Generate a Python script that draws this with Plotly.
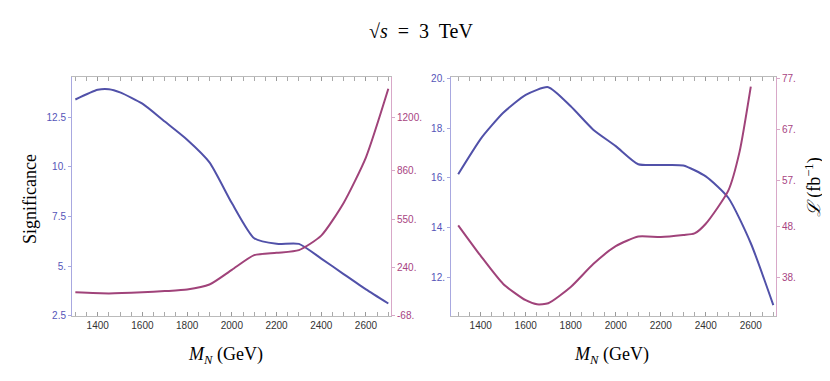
import plotly.graph_objects as go

# M_N (GeV)
mass_sig = [1300, 1400, 1450, 1500, 1600, 1700, 1800, 1900, 2000, 2100, 2200, 2300, 2400, 2500, 2600, 2700]
# left panel: significance and required luminosity
sig_left = [13.38, 13.87, 13.9, 13.74, 13.17, 12.27, 11.36, 10.22, 8.17, 6.40, 6.12, 6.12, 5.38, 4.60, 3.83, 3.12]
mass_lumi_left = [1300, 1450, 1600, 1700, 1800, 1900, 2000, 2100, 2200, 2300, 2400, 2500, 2600, 2700]
lumi_left = [82, 75, 82, 90, 100, 132, 226, 320, 335, 352, 445, 654, 946, 1384]

# right panel
sig_right = [16.15, 17.57, 18.12, 18.62, 19.34, 19.65, 18.88, 17.94, 17.28, 16.55, 16.52, 16.5, 16.06, 15.2, 13.37, 10.88]
mass_lumi_right = [1300, 1400, 1500, 1600, 1650, 1700, 1800, 1900, 2000, 2100, 2200, 2300, 2350, 2400, 2500, 2550, 2600]
lumi_right = [48.2, 42.2, 36.7, 33.5, 32.7, 32.9, 36.1, 40.6, 44.1, 46.0, 45.9, 46.3, 46.6, 48.5, 55.0, 62.6, 75.4]

x_ticks = [1400, 1600, 1800, 2000, 2200, 2400, 2600]
left_sig_ticks = [2.5, 5, 7.5, 10, 12.5]
left_sig_text = ["2.5", "5.", "7.5", "10.", "12.5"]
left_lumi_ticks = [-68, 240, 550, 860, 1200]
left_lumi_text = ["-68.", "240.", "550.", "860.", "1200."]
right_sig_ticks = [12, 14, 16, 18, 20]
right_sig_text = ["12.", "14.", "16.", "18.", "20."]
right_lumi_ticks = [38, 48, 57, 67, 77]
right_lumi_text = ["38.", "48.", "57.", "67.", "77."]

BLUE = "#5151a9"
RED = "#a0437a"
W, H = 830, 381

fig = go.Figure()
fig.add_trace(go.Scatter(x=mass_sig, y=sig_left, xaxis="x", yaxis="y", mode="lines",
                         line=dict(color=BLUE, width=2, shape="spline", smoothing=0.6), showlegend=False))
fig.add_trace(go.Scatter(x=mass_lumi_left, y=lumi_left, xaxis="x", yaxis="y2", mode="lines",
                         line=dict(color=RED, width=2, shape="spline", smoothing=0.6), showlegend=False))
fig.add_trace(go.Scatter(x=mass_sig, y=sig_right, xaxis="x2", yaxis="y3", mode="lines",
                         line=dict(color=BLUE, width=2, shape="spline", smoothing=0.6), showlegend=False))
fig.add_trace(go.Scatter(x=mass_lumi_right, y=lumi_right, xaxis="x2", yaxis="y4", mode="lines",
                         line=dict(color=RED, width=2, shape="spline", smoothing=0.6), showlegend=False))

tickfont = dict(family="Liberation Sans", size=10, color="#333333")
xcommon = dict(tickvals=x_ticks, ticks="inside", ticklen=4, tickcolor="#999999",
               showline=True, linecolor="#bbbbbb", mirror="allticks", showgrid=False,
               zeroline=False, tickfont=tickfont,
               minor=dict(dtick=50, ticks="inside", ticklen=2, tickcolor="#aaaaaa"))
ydom = [1 - 312 / H, 1 - 67 / H]

def yax(ticks, text, color, linecolor, rng, side, **kw):
    return dict(tickvals=ticks, ticktext=text, range=rng, side=side, ticks="outside", ticklen=3,
                tickcolor=linecolor, showline=True, linecolor=linecolor, showgrid=False,
                zeroline=False, tickfont=dict(family="Liberation Sans", size=10, color=color),
                domain=ydom, **kw)

# right panel axes are tied: L = -20.5 + 4.875*S
fig.update_layout(
    width=W, height=H,
    margin=dict(l=0, r=0, t=0, b=0),
    paper_bgcolor="white", plot_bgcolor="white",
    xaxis=dict(domain=[64 / W, 383 / W], range=[1285, 2712], anchor="y", **xcommon),
    xaxis2=dict(domain=[443 / W, 768 / W], range=[1268, 2712], anchor="y3", **xcommon),
    yaxis=yax(left_sig_ticks, left_sig_text, "#5555b8", "#a8a8e0", [2.5, 14.5], "left", anchor="x"),
    yaxis2=yax(left_lumi_ticks, left_lumi_text, "#a84482", "#d8a8c8", [-68, 1458], "right",
               anchor="x", overlaying="y"),
    yaxis3=yax(right_sig_ticks, right_sig_text, "#5555b8", "#a8a8e0", [10.45, 20.05], "left", anchor="x2"),
    yaxis4=yax(right_lumi_ticks, right_lumi_text, "#a84482", "#d8a8c8",
               [-20.5 + 4.875 * 10.45, -20.5 + 4.875 * 20.05], "right", anchor="x2", overlaying="y3"),
)

serif = "Liberation Serif"
ann = [
    dict(text="√<i>s</i>  =  3  TeV", x=413 / W, y=1 - 19 / H,
         font=dict(family=serif, size=20, color="black")),
    dict(text="<i>M<sub>N</sub></i> (GeV)", x=217 / W, y=1 - 353 / H,
         font=dict(family=serif, size=18, color="black")),
    dict(text="<i>M<sub>N</sub></i> (GeV)", x=603 / W, y=1 - 353 / H,
         font=dict(family=serif, size=18, color="black")),
    dict(text="Significance", x=22 / W, y=1 - 192 / H, textangle=-90,
         font=dict(family=serif, size=18, color="black")),
    dict(text="<i>ℒ</i> (fb<sup>−1</sup>)", x=806 / W, y=1 - 180 / H, textangle=-90,
         font=dict(family=serif, size=18, color="black")),
]
for a in ann:
    fig.add_annotation(xref="paper", yref="paper", showarrow=False, xanchor="center", yanchor="middle", **a)

fig.write_html("out.html")
